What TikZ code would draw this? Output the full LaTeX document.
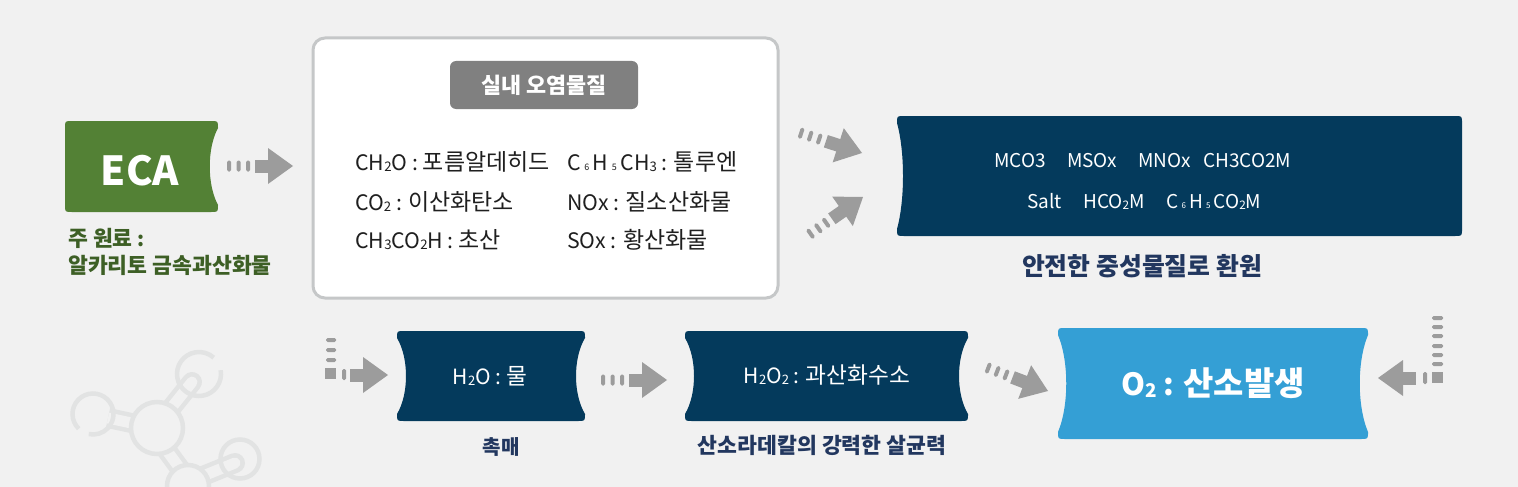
\documentclass[tikz,border=0pt]{standalone}
\usepackage{fontspec}
\setmainfont{Noto Sans CJK KR}
\newfontfamily\hgfont{Noto Sans CJK KR}[Scale=1.08]
\usetikzlibrary{positioning}
\usetikzlibrary{calc}

\definecolor{bggray}{HTML}{F1F1F1}
\definecolor{ecagreen}{HTML}{538135}
\definecolor{leafgreen}{HTML}{3D5F25}
\definecolor{deepnavy}{HTML}{043A5C}
\definecolor{skyblue}{HTML}{349FD5}
\definecolor{arrowgray}{HTML}{9C9C9C}
\definecolor{pillgray}{HTML}{808080}
\definecolor{rimgray}{HTML}{C5C7C8}
\definecolor{capnavy}{HTML}{22375F}
\definecolor{molgray}{HTML}{E2E3E3}

% hangul a little larger than the latin letters
\newcommand{\hg}[1]{{\hgfont #1}}
% small chemistry digits
\newcommand{\sbs}[1]{\raisebox{-0.08em}{\scalebox{0.62}{#1}}}
\newcommand{\tsb}[1]{\,\scalebox{0.42}{#1}\,}

% box with bowed-in sides: fill, L, T, R, B, left bow, right bow
\newcommand{\bowbox}[7]{%
  \fill[#1] ({#2+7},#3) -- ({#4-7},#3) .. controls (#4,#3) .. (#4,{#3+7})
    .. controls ({#4-#7},{#3+0.3*(#5-#3)}) and ({#4-#7},{#5-0.3*(#5-#3)}) .. (#4,{#5-7})
    .. controls (#4,#5) .. ({#4-7},#5) -- ({#2+7},#5) .. controls (#2,#5) .. (#2,{#5-7})
    .. controls ({#2+#6},{#5-0.3*(#5-#3)}) and ({#2+#6},{#3+0.3*(#5-#3)}) .. (#2,{#3+7})
    .. controls (#2,#3) .. ({#2+7},#3) -- cycle;}

\begin{document}
\begin{tikzpicture}[x=1pt,y=-1pt,
  lst/.style={font=\fontsize{21.3}{25}\selectfont, text=black!88, anchor=base west, inner sep=0pt},
  wlst/.style={font=\fontsize{19}{22}\selectfont, text=white, anchor=base west, inner sep=0pt},
  undertxt/.style={font=\fontsize{20}{24}\selectfont\bfseries, text=capnavy, anchor=base, inner sep=0pt},
  leaf/.style={font=\fontsize{20}{24}\selectfont\bfseries, text=leafgreen, anchor=base west, inner sep=0pt},
  dashpill/.style={fill=arrowgray, rounded corners=1.5pt},
  ghead/.pic={
    \fill[arrowgray] (0,0) -- (-25,-18) -- (-25,18) -- cycle;
    \fill[arrowgray] (-24,-6.5) rectangle (-38,6.5);
  },
  garrow/.pic={
    \fill[arrowgray] (0,0) -- (-25,-18) -- (-25,18) -- cycle;
    \fill[arrowgray] (-24,-6.5) rectangle (-38,6.5);
    \foreach \d in {-43,-52.5,-62}
      \fill[arrowgray, rounded corners=1.5pt] (\d,-5.5) rectangle ++(-4,11);
  }]
\fill[bggray] (0,0) rectangle (1518,487);
\useasboundingbox (0,0) rectangle (1518,487);

% faint molecule in the corner
\begin{scope}[molgray, line width=4.5pt]
\draw[line width=20pt, line cap=round] (172,407) -- (192,382);
\draw[bggray, line width=11pt, line cap=round] (172,407) -- (192,382);
\draw[line width=20pt, line cap=round] (198,478) -- (235,463);
\draw[bggray, line width=11pt, line cap=round] (198,478) -- (235,463);
\draw[line width=20pt] (108,418) -- (136,424);
\draw[bggray, line width=11pt] (108,418) -- (136,424);
\draw[line width=20pt] (165,448) -- (184,474);
\draw[bggray, line width=11pt] (165,448) -- (184,474);
\draw[fill=bggray] (157,428) circle (26);
\draw[fill=bggray] (188,486) circle (21);
\draw (199,374) ++(-10:22) arc[start angle=-10, end angle=312, radius=22];
\draw (93,414) ++(134:20.5) arc[start angle=134, end angle=462, radius=20.5];
\draw (240,459) circle (19.5);
\end{scope}

% ECA
\bowbox{ecagreen}{65}{121}{218}{212}{0}{11}
\node[font=\fontsize{40}{44}\selectfont\bfseries, text=white, inner sep=0pt] (eca) at (140,171) {ECA};
\node[leaf] (ecaA) at (68,246) {\hg{주 원료} :};
\node[leaf] (ecaB) at (68,273) {\hg{알카리토 금속과산화물}};
\coordinate (tipA) at (293,166);
\pic at (tipA) {garrow};

% indoor pollutants
\node[draw=rimgray, line width=3pt, fill=white, rounded corners=12pt,
  minimum width=465pt, minimum height=260pt] (pollut) at (545.5,168) {};
\node[fill=pillgray, rounded corners=6pt, minimum width=188pt, minimum height=48pt,
  text=white, font=\fontsize{20.2}{24}\selectfont\bfseries] (pill) at (544,85) {\hg{실내 오염물질}};
\node[lst] (p1) at (355,170) {CH\sbs{2}O : \hg{포름알데히드}};
\node[lst] (p2) at (355,210) {CO\sbs{2} : \hg{이산화탄소}};
\node[lst] (p3) at (355,248) {CH\sbs{3}CO\sbs{2}H : \hg{초산}};
\node[lst] (p4) at (567,170) {C\tsb{6}H\tsb{5}CH\sbs{3} : \hg{톨루엔}};
\node[lst] (p5) at (567,210) {NOx : \hg{질소산화물}};
\node[lst] (p6) at (567,248) {SOx : \hg{황산화물}};

\coordinate (tipB) at (862,153);
\coordinate (tipC) at (863,197);
\pic[rotate=-18] at (tipB) {garrow};
\pic[rotate=35] at (tipC) {garrow};

% neutral salts
\bowbox{deepnavy}{897}{116}{1462}{236}{8}{0}
\node[wlst] (s1) at (994,167) {MCO3};
\node[wlst] (s2) at (1067,167) {MSOx};
\node[wlst] (s3) at (1138,167) {MNOx};
\node[wlst] (s4) at (1203,167) {CH3CO2M};
\node[wlst] (s5) at (1027,208) {Salt};
\node[wlst] (s6) at (1083,208) {HCO\sbs{2}M};
\node[wlst] (s7) at (1166,208) {C\tsb{6}H\tsb{5}CO\sbs{2}M};
\node[undertxt, font=\fontsize{23}{27}\selectfont\bfseries] (salt) at (1142,275) {\hg{안전한 중성물질로 환원}};

% water
\coordinate (tipD) at (388,375);
\pic at (tipD) {ghead};
\fill[dashpill] (342,369) rectangle (346,380);
\fill[arrowgray] (325,368) rectangle (336,379);
\foreach \y in {338,348,358}
  \fill[dashpill] (326,\y) rectangle (336,\y+4);
\bowbox{deepnavy}{397}{331}{585}{421}{12}{12}
\node[wlst, anchor=base, font=\fontsize{21}{25}\selectfont] (water) at (490,384) {H\sbs{2}O : \hg{물}};
\node[undertxt, font=\fontsize{18.6}{22}\selectfont\bfseries] (cata) at (501,454) {\hg{촉매}};
\coordinate (tipE) at (667,380);
\pic at (tipE) {garrow};

% peroxide
\bowbox{deepnavy}{685}{331}{968}{421}{12}{12}
\node[wlst, anchor=base, font=\fontsize{21}{25}\selectfont] (perox) at (827,383) {H\sbs{2}O\sbs{2} : \hg{과산화수소}};
\node[undertxt] (kill) at (822,453) {\hg{산소라데칼의 강력한 살균력}};
\coordinate (tipF) at (1048,391);
\pic[rotate=-21] at (tipF) {garrow};

% oxygen
\bowbox{skyblue}{1058}{328}{1368}{439}{11}{11}
\node[font=\fontsize{30.5}{35}\selectfont\bfseries, text=white, anchor=base, inner sep=0pt] (oxy) at (1213,395) {O\sbs{2} : \hg{산소발생}};
\coordinate (tipG) at (1378,378);
\pic[rotate=180] at (tipG) {ghead};
\fill[dashpill] (1423,372) rectangle (1427,384);
\fill[arrowgray] (1432,372) rectangle (1443,383);
\foreach \y in {316,325,334,344,353,362}
  \fill[dashpill] (1432,\y) rectangle (1443,\y+4);
\end{tikzpicture}
\end{document}
